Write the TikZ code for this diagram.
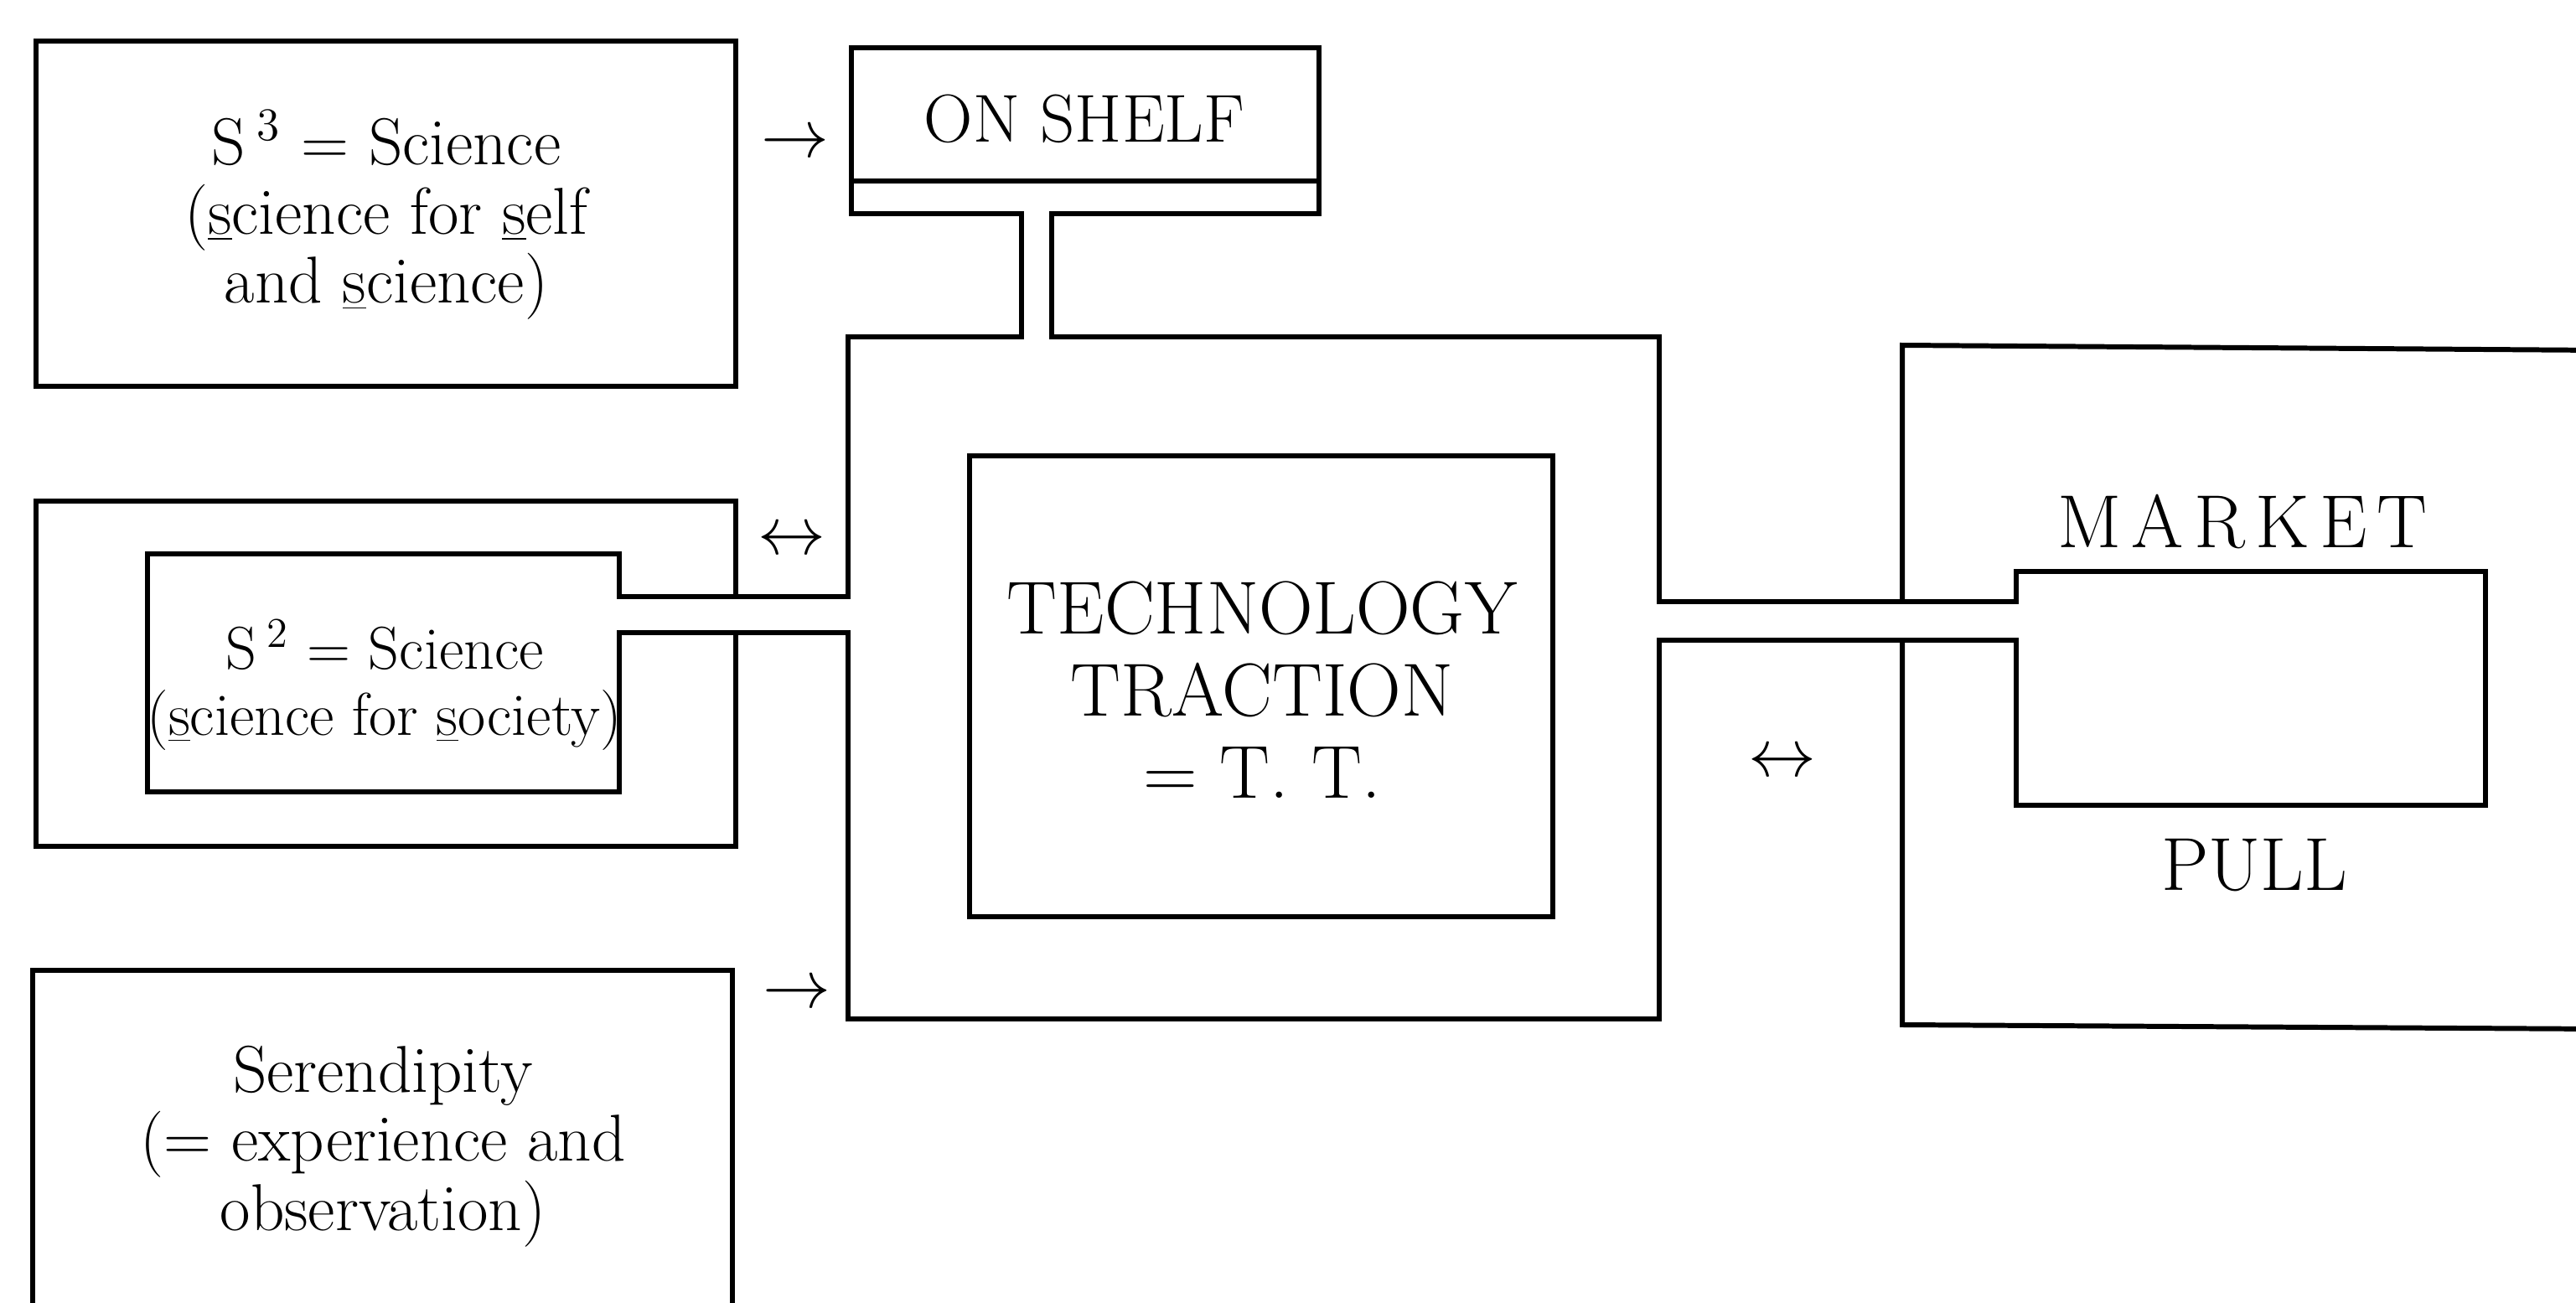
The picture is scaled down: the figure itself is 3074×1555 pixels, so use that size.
\RequirePackage{fix-cm}
\documentclass[tikz,border=0pt]{standalone}
\begin{document}
\begin{tikzpicture}[x=0.01cm,y=-0.01cm,
  outline/.style={line width=1.7pt, line join=miter, line cap=rect},
  smalltxt/.style={align=center, inner sep=0pt, font=\fontsize{22.5}{23.5}\selectfont},
  sdtxt/.style={align=center, inner sep=0pt, font=\fontsize{20.5}{22.4}\selectfont},
  bigtxt/.style={align=center, inner sep=0pt, font=\fontsize{25.5}{27.8}\selectfont},
  captxt/.style={inner sep=0pt, font=\fontsize{25.5}{28}\selectfont},
  symb/.style={inner sep=0pt, font=\fontsize{23}{23}\selectfont}]
\useasboundingbox (0,0) rectangle (3074,1555);
\begin{scope}
\clip (0,0) rectangle (3074,1555);
% S3 box
\draw[outline] (43,49) rectangle (878,461);
% ON SHELF box
\draw[outline] (1016,57) rectangle (1574,216);
% main continuous outline: bar, stem, TT frame, channels, S2 inner box, market inner box
\draw[outline] (1016,216) -- (1016,255) -- (1219,255) -- (1219,402)
  -- (1012,402) -- (1012,712) -- (739,712) -- (739,661) -- (176,661)
  -- (176,945) -- (739,945) -- (739,755) -- (1012,755) -- (1012,1216)
  -- (1980,1216) -- (1980,764) -- (2406,764) -- (2406,961) -- (2966,961)
  -- (2966,682) -- (2406,682) -- (2406,718) -- (1980,718) -- (1980,402)
  -- (1255,402) -- (1255,255) -- (1574,255) -- (1574,216);
% TT inner box
\draw[outline] (1157,544) rectangle (1853,1094);
% S2 outer box
\draw[outline] (878,712) -- (878,598) -- (43,598) -- (43,1010) -- (878,1010) -- (878,755);
% MARKET outer box
\draw[outline] (2270,718) -- (2270,412) -- (3100,418);
\draw[outline] (2270,764) -- (2270,1223) -- (3100,1228);
% Serendipity box
\draw[outline] (874,1600) -- (874,1158) -- (39,1158) -- (39,1600);
\end{scope}
% texts
\node[smalltxt] (s3) at (461,257) {S\,$^{3}$ = Science\\(\underline{s}cience for \underline{s}elf\\and \underline{s}cience)};
\node[inner sep=0pt, font=\fontsize{23}{24}\selectfont] (shelf) at (1294,142) {ON SHELF};
\node[sdtxt] (s2) at (459,818) {S\,$^{2}$ = Science\\(\underline{s}cience for \underline{s}ociety)};
\node[bigtxt] (tt) at (1506,823) {TECHNOLOGY\\TRACTION\\= T. T.};
\node[captxt] (market) at (2676,623) {M\kern3.5pt A\kern3.5pt R\kern3.5pt K\kern3.5pt E\kern3.5pt T};
\node[captxt] (pull) at (2690,1033) {PULL};
\node[smalltxt] (ser) at (457,1368) {Serendipity\\(= experience and\\observation)};
% arrow symbols
\node[symb] (a1) at (949,173) {$\rightarrow$};
\node[symb] (a2) at (945,647) {$\leftrightarrow$};
\node[symb] (a3) at (951,1188) {$\rightarrow$};
\node[symb] (a4) at (2127,912) {$\leftrightarrow$};
\end{tikzpicture}
\end{document}
